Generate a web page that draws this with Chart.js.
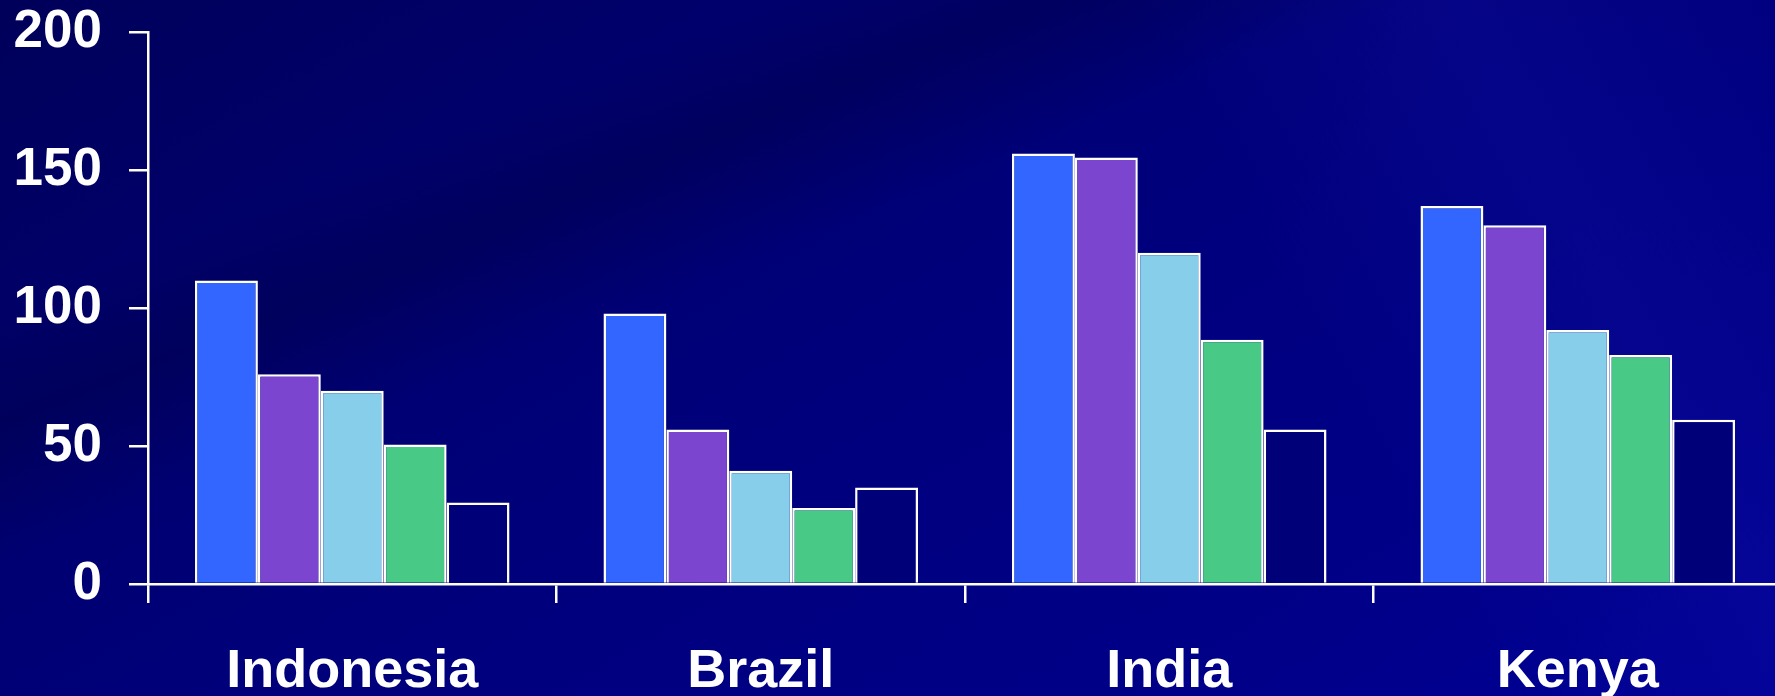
<!DOCTYPE html>
<html>
<head>
<meta charset="utf-8">
<script src="https://cdn.jsdelivr.net/npm/chart.js@4"></script>
<style>
  html, body { margin: 0; padding: 0; width: 1775px; height: 696px; overflow: hidden; }
  body {
    background:
      linear-gradient(158deg, rgba(0,0,60,0) 0%, rgba(0,0,60,0) 22%, rgba(0,0,60,0.35) 30%, rgba(0,0,60,0) 40%, rgba(0,0,60,0) 100%),
      linear-gradient(62deg, rgba(0,0,0,0) 0%, rgba(0,0,0,0) 70%, rgba(20,20,170,0.25) 85%, rgba(0,0,0,0) 100%),
      linear-gradient(150deg, #00005a 0%, #000070 30%, #00007e 55%, #000088 80%, #000096 100%);
  }
  #wrap { position: absolute; left: 0; top: 0; width: 1782px; height: 696px; }
</style>
</head>
<body>
<div id="wrap"><canvas id="c" width="1782" height="696"></canvas></div>
<script>
const categories = ["Indonesia", "Brazil", "India", "Kenya"];
const series1 = [110, 98, 156, 137];
const series2 = [76, 56, 154.5, 130];
const series3 = [70, 41, 120, 92];
const series4 = [50.5, 27.5, 88.5, 83];
const series5 = [29.5, 35, 56, 59.5];
const yTicks = [0, 50, 100, 150, 200];

const colors = ["#3366ff", "#7b45cf", "#87ceeb", "#48c986", "#000078"];
const seriesList = [series1, series2, series3, series4, series5];

new Chart(document.getElementById('c'), {
  type: 'bar',
  data: {
    labels: categories,
    datasets: seriesList.map((s, i) => ({
      label: 'Series ' + (i + 1),
      data: s,
      backgroundColor: colors[i],
      borderColor: '#ffffff',
      borderWidth: 2.5,
      categoryPercentage: 0.77,
      barPercentage: 1.0
    }))
  },
  options: {
    responsive: false,
    devicePixelRatio: 1,
    animation: false,
    layout: { padding: { top: 32, right: 0, left: 0, bottom: 0 } },
    plugins: { legend: { display: false }, tooltip: { enabled: false } },
    scales: {
      x: {
        afterFit: (s) => { s.height = 112; },
        grid: { display: true, drawOnChartArea: false, color: '#ffffff', lineWidth: 2.5, tickLength: 19, offset: true },
        border: { display: true, color: '#ffffff', width: 2.5 },
        ticks: { color: '#ffffff', padding: 37, font: { family: 'Liberation Sans, Arial, sans-serif', size: 54, weight: 'bold' } }
      },
      y: {
        min: 0, max: 200,
        afterFit: (s) => { s.width = 148; s.paddingTop = 0; s.paddingBottom = 0; },
        afterBuildTicks: (s) => { s.ticks = yTicks.map(v => ({ value: v })); },
        grid: { display: true, drawOnChartArea: false, color: '#ffffff', lineWidth: 2.5, tickLength: 19 },
        border: { display: true, color: '#ffffff', width: 2.5 },
        ticks: { color: '#ffffff', padding: 27, font: { family: 'Liberation Sans, Arial, sans-serif', size: 53, weight: 'bold' } }
      }
    }
  }
});
</script>
</body>
</html>
